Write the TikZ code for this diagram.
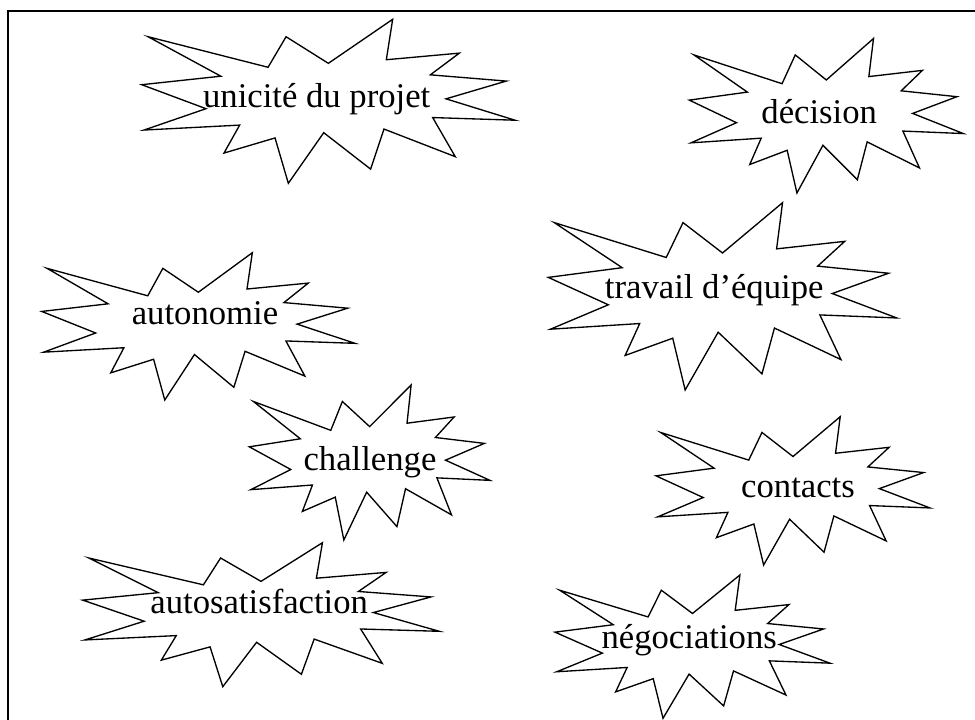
\documentclass[tikz,border=0pt]{standalone}
\usepackage{fontspec}
\setmainfont{Liberation Serif}
\tikzset{
  burstline/.style={draw=black, line width=1pt, line join=miter, fill=white},
  bursttext/.style={anchor=base, inner sep=0pt, font=\fontsize{26}{30}\selectfont},
  framebox/.style={draw=black, line width=1.8pt},
}
\newcommand\burstshape[4]{%
  \begin{scope}[shift={(#1,#2)}, xscale=#3, yscale=#4]
    \draw[burstline] (.5,.2685) -- (.6723,0) -- (.6553,.2465) -- (.8509,.2063)
      -- (.7732,.3387) -- (.9767,.3767) -- (.8151,.4850) -- (1,.6153)
      -- (.7795,.5992) -- (.8400,.8377) -- (.6491,.6693) -- (.6133,.9137)
      -- (.4876,.6914) -- (.3928,1) -- (.3572,.7235) -- (.2205,.8156)
      -- (.2624,.6452) -- (.00625,.6753) -- (.1723,.5451) -- (0,.3988)
      -- (.212,.347) -- (.0171,.1063) -- (.3385,.2926) -- (.3867,.1063) -- cycle;
  \end{scope}}
\begin{document}
\begin{tikzpicture}[x=0.75pt,y=-0.75pt]
\useasboundingbox (0,0) rectangle (975,720);
\clip (0,0) rectangle (975,720);
\draw[framebox] (8,11.3) rectangle (1000,750);

\burstshape{141.7}{19.3}{373.3}{164}
\burstshape{689.3}{38.5}{274}{154.5}
\burstshape{41.7}{252.7}{313.3}{147.3}
\burstshape{548.3}{202.7}{348.4}{187.3}
\burstshape{249.3}{385}{240.7}{155}
\burstshape{656}{416.7}{274}{148.3}
\burstshape{82.7}{542.7}{356.6}{144}
\burstshape{555}{575}{275}{143.3}

\node[bursttext] (unicite) at (316.7,107.7) {unicité du projet};
\node[bursttext] (decision) at (819.2,123.3) {décision};
\node[bursttext] (autonomie) at (205,325) {autonomie};
\node[bursttext] (travail) at (714.2,298.3) {travail d’équipe};
\node[bursttext] (challenge) at (370,470.7) {challenge};
\node[bursttext] (contacts) at (798,497.3) {contacts};
\node[bursttext] (autosat) at (259.2,613.3) {autosatisfaction};
\node[bursttext] (nego) at (689.2,648.3) {négociations};
\end{tikzpicture}
\end{document}
